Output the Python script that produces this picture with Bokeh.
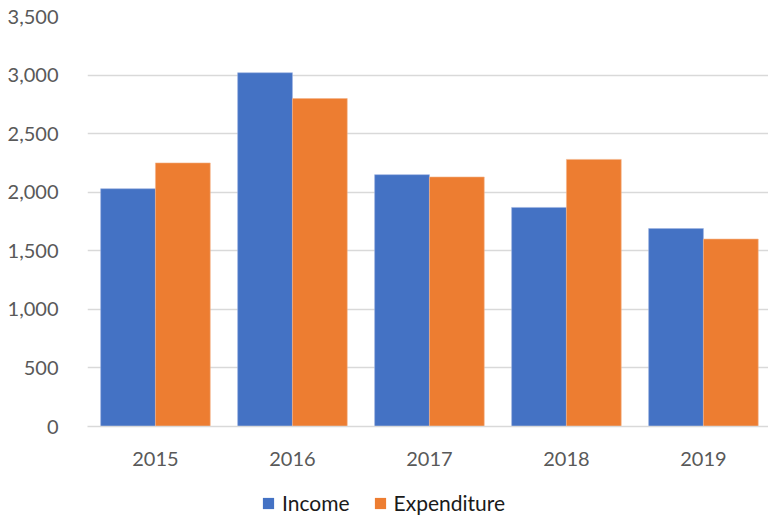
from bokeh.plotting import figure
from bokeh.models import (ColumnDataSource, Range1d, SingleIntervalTicker, FixedTicker,
                          NumeralTickFormatter, Legend, LegendItem)
from bokeh.layouts import column
from bokeh.transform import dodge
from bokeh.embed import file_html
from bokeh.resources import INLINE

years = ["2015", "2016", "2017", "2018", "2019"]
income = [2030, 3020, 2150, 1870, 1690]
expenditure = [2250, 2800, 2130, 2280, 1600]

positions = list(range(len(years)))
src = ColumnDataSource(dict(pos=positions, year=years, income=income, expenditure=expenditure))

BLUE = "#4472C4"
ORANGE = "#ED7D31"
FONT = "Lato"
W = 768

p = figure(width=W, height=489, output_backend="svg", toolbar_location=None,
           x_range=Range1d(-0.496, len(years) - 0.525), y_range=Range1d(0, 3500),
           min_border_left=87, min_border_right=0, min_border_top=16, min_border_bottom=63)
p.outline_line_color = None

p.vbar(x=dodge("pos", -0.2), top="income", width=0.4, source=src,
       fill_color=BLUE, line_color="#9db4e0", line_width=0.6)
p.vbar(x=dodge("pos", 0.2), top="expenditure", width=0.4, source=src,
       fill_color=ORANGE, line_color="#f4b48a", line_width=0.6)

p.yaxis.ticker = SingleIntervalTicker(interval=500)
p.yaxis.formatter = NumeralTickFormatter(format="0,0")
p.yaxis.axis_line_color = None
p.yaxis.major_tick_line_color = None
p.yaxis.minor_tick_line_color = None
p.yaxis.major_label_standoff = 23
p.yaxis.major_label_text_font = FONT
p.yaxis.major_label_text_font_size = "20px"
p.yaxis.major_label_text_color = "#595959"

p.xaxis.ticker = FixedTicker(ticks=positions)
p.xaxis.major_label_overrides = {i: y for i, y in zip(positions, years)}
p.xaxis.axis_line_color = "#d9d9d9"
p.xaxis.axis_line_width = 1.5
p.xaxis.major_tick_line_color = None
p.xaxis.minor_tick_line_color = None
p.xaxis.major_label_standoff = 19
p.xaxis.major_label_text_font = FONT
p.xaxis.major_label_text_font_size = "20px"
p.xaxis.major_label_text_color = "#595959"

p.xgrid.grid_line_color = None
p.ygrid.grid_line_color = "#d9d9d9"
p.ygrid.grid_line_width = 1.5
p.ygrid.level = "underlay"

# legend strip below the chart (same series, hidden renderers only feed the legend)
lg = figure(width=W, height=30, output_backend="svg", toolbar_location=None,
            x_range=Range1d(10, 11), y_range=Range1d(-2, -1),
            min_border=0, min_border_left=0, min_border_right=0, min_border_top=0, min_border_bottom=0)
lg.outline_line_color = None
lg.axis.visible = False
lg.grid.visible = False
l1 = lg.vbar(x="pos", top="income", width=0.4, source=src, fill_color=BLUE, line_color=None)
l2 = lg.vbar(x="pos", top="expenditure", width=0.4, source=src, fill_color=ORANGE, line_color=None)
l1.visible = False
l2.visible = False
legend = Legend(items=[LegendItem(label="Income", renderers=[l1]),
                       LegendItem(label="Expenditure", renderers=[l2])],
                orientation="horizontal", location=(174, 4))
legend.border_line_color = None
legend.background_fill_alpha = 0
legend.inactive_fill_alpha = 0
legend.glyph_width = 14
legend.glyph_height = 14
legend.label_height = 20
legend.label_text_font = FONT
legend.label_text_font_size = "21px"
legend.label_text_color = "#1a1a1a"
legend.label_standoff = 7
legend.spacing = 23
legend.margin = 0
legend.padding = 0
lg.add_layout(legend, "center")

layout = column(p, lg, spacing=0)
open("out.html", "w").write(file_html(layout, INLINE))
